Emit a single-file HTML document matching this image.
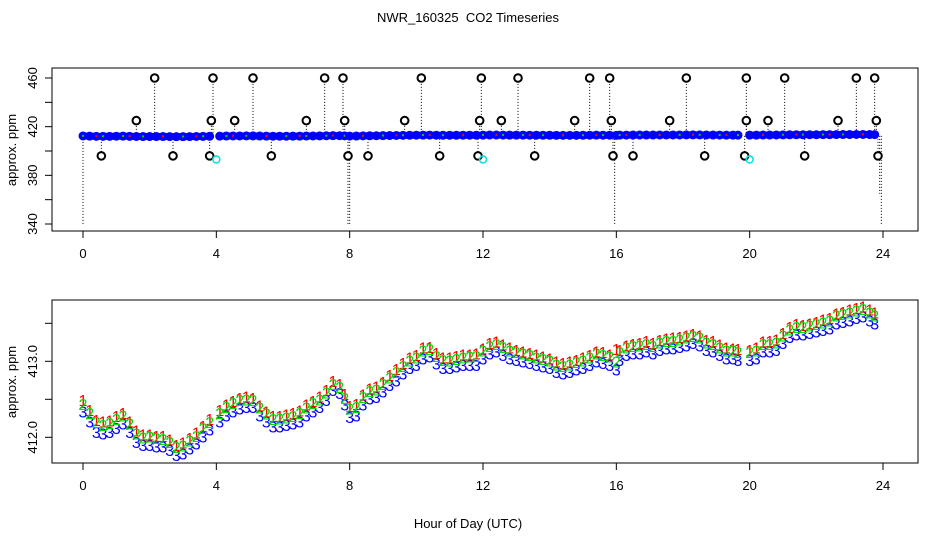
<!DOCTYPE html>
<html><head><meta charset="utf-8"><style>
html,body{margin:0;padding:0;background:#fff;}
svg{display:block;font-family:"Liberation Sans",sans-serif;}
</style></head><body>
<svg id="chart" width="936" height="540" viewBox="0 0 936 540" xmlns="http://www.w3.org/2000/svg">
<rect width="936" height="540" fill="#fff"/>
<text x="468" y="22" font-size="13" text-anchor="middle" xml:space="preserve">NWR_160325  CO2 Timeseries</text>
<text x="468" y="528" font-size="13" text-anchor="middle">Hour of Day (UTC)</text>
<rect x="52" y="68" width="866" height="163" fill="none" stroke="#000"/>
<rect x="52" y="300" width="866" height="163" fill="none" stroke="#000"/>
<text transform="translate(16,150) rotate(-90)" font-size="13" text-anchor="middle">approx. ppm</text>
<text transform="translate(16,382) rotate(-90)" font-size="13" text-anchor="middle">approx. ppm</text>
<g id="top-axes"></g>
<g id="top-marks"></g>
<g id="bot-axes"></g>
<g id="bot-marks"></g>
</svg>
<script>
const xTicks = [0,4,8,12,16,20,24];
const topYTicks = [340,360,380,400,420,440,460];
const topYLabels = ["340","","380","","420","","460"];
const botYTicks = [412.0,412.5,413.0,413.5];
const botYLabels = ["412.0","","413.0",""];
const hours = [0,0.2,0.4,0.6,0.8,1.0,1.2,1.4,1.6,1.8,2.0,2.2,2.4,2.6,2.8,3.0,3.2,3.4,3.6,3.8,4.1,4.3,4.5,4.7,4.9,5.1,5.3,5.5,5.7,5.9,6.1,6.3,6.5,6.7,6.9,7.1,7.3,7.5,7.7,7.85,8.0,8.2,8.4,8.6,8.8,9.0,9.2,9.4,9.6,9.8,10.0,10.2,10.4,10.6,10.8,11.0,11.2,11.4,11.6,11.8,12.0,12.2,12.4,12.6,12.8,13.0,13.2,13.4,13.6,13.8,14.0,14.2,14.4,14.6,14.8,15.0,15.2,15.4,15.6,15.8,16.0,16.1,16.3,16.5,16.7,16.9,17.1,17.3,17.5,17.7,17.9,18.1,18.3,18.5,18.7,18.9,19.1,19.3,19.5,19.65,20.0,20.2,20.4,20.6,20.8,21.0,21.2,21.4,21.6,21.8,22.0,22.2,22.4,22.6,22.8,23.0,23.2,23.4,23.6,23.75];
const series3 = [412.34,412.21,412.07,412.05,412.07,412.12,412.18,412.07,411.94,411.90,411.90,411.88,411.88,411.83,411.77,411.79,411.85,411.92,412.01,412.10,
412.21,412.29,412.34,412.38,412.40,412.40,412.29,412.21,412.14,412.14,412.16,412.18,412.21,412.29,412.34,412.40,412.49,412.62,412.58,
412.43,
412.27,412.29,412.43,412.51,412.53,412.60,412.69,412.75,412.84,412.91,412.95,413.04,413.06,412.97,412.91,412.91,412.93,412.95,412.95,412.95,
413.04,413.10,413.13,413.08,413.04,413.02,413.00,412.98,412.95,412.93,412.91,412.86,412.84,412.86,412.89,412.91,412.95,413.00,412.98,412.95,
412.89,413.02,
413.08,413.10,413.10,413.13,413.10,413.15,413.17,413.17,413.19,413.21,413.24,413.21,413.15,413.13,413.08,413.04,413.04,
413.02,
413.02,413.04,413.13,413.13,413.15,413.24,413.32,413.35,413.35,413.37,413.39,413.41,413.43,413.50,413.52,413.54,413.57,413.59,413.54,
413.50];
const series2 = [412.44,412.32,412.20,412.16,412.19,412.24,412.29,412.18,412.05,412.00,412.01,411.99,411.98,411.94,411.87,411.89,411.96,412.02,412.12,412.20,
412.32,412.40,412.45,412.49,412.50,412.49,412.39,412.31,412.24,412.25,412.26,412.28,412.32,412.39,412.45,412.50,412.59,412.70,412.66,
412.52,
412.38,412.40,412.53,412.61,412.63,412.70,412.79,412.86,412.94,413.01,413.05,413.14,413.16,413.07,413.02,413.01,413.03,413.05,413.06,413.07,
413.14,413.20,413.23,413.19,413.14,413.12,413.10,413.08,413.05,413.03,413.01,412.96,412.94,412.96,412.99,413.01,413.05,413.10,413.08,413.06,
413.00,413.12,
413.18,413.20,413.21,413.23,413.20,413.25,413.27,413.27,413.29,413.31,413.33,413.31,413.25,413.23,413.18,413.14,413.14,
413.12,
413.12,413.14,413.23,413.23,413.25,413.34,413.42,413.45,413.45,413.47,413.49,413.51,413.54,413.60,413.62,413.64,413.67,413.69,413.64,
413.60];
const series1 = [412.49,412.36,412.23,412.21,412.22,412.28,412.32,412.21,412.09,412.04,412.04,412.02,412.02,411.97,411.90,411.93,411.99,412.06,412.15,412.24,
412.36,412.43,412.48,412.52,412.54,412.52,412.42,412.34,412.28,412.28,412.30,412.32,412.35,412.43,412.48,412.54,412.62,412.74,412.70,
412.57,
412.41,412.44,412.56,412.64,412.67,412.73,412.82,412.90,412.98,413.05,413.08,413.18,413.19,413.11,413.05,413.05,413.07,413.09,413.09,413.10,
413.17,413.24,413.26,413.22,413.18,413.15,413.13,413.11,413.09,413.06,413.04,413.00,412.98,413.00,413.02,413.05,413.08,413.13,413.12,413.09,
413.16,413.15,
413.21,413.23,413.24,413.27,413.24,413.28,413.30,413.31,413.32,413.34,413.36,413.34,413.28,413.27,413.22,413.18,413.17,
413.16,
413.15,413.18,413.26,413.27,413.29,413.37,413.45,413.49,413.48,413.50,413.52,413.55,413.57,413.63,413.65,413.68,413.70,413.72,413.68,
413.64];
const outlierHours = [2.15,3.9,5.1,7.25,7.8,10.15,11.95,13.05,15.2,15.8,18.1,19.9,21.05,23.2,23.75,
1.6,3.85,4.55,6.7,7.85,9.65,11.9,12.55,14.75,15.85,17.6,19.9,20.55,22.65,23.8,
0.55,2.7,3.8,5.65,7.95,8.55,10.7,11.85,13.55,15.9,16.5,18.65,19.85,21.65,23.85];
const outlierValues = [460,460,460,460,460,460,460,460,460,460,460,460,460,460,460,
425,425,425,425,425,425,425,425,425,425,425,425,425,425,425,
396,396,396,396,396,396,396,396,396,396,396,396,396,396,396];
const calHours = [4.0,12.0,20.0];
const calValues = [393,393,393];
const dropHours = [0.0,7.95,8.0,15.95,23.9,23.95];
const dropValues = [340,340,340,340,365,340];
const baseLevel = 412.4;

const NS = "http://www.w3.org/2000/svg";
const xs = h => 83 + h * (800 / 24);
const yTop = v => 224 - (v - 340) * (146 / 120);
const yBot = v => 361.3 - (v - 413) * 76;
function mk(tag, attrs, parent){ const e = document.createElementNS(NS, tag); for (const k in attrs) e.setAttribute(k, attrs[k]); parent.appendChild(e); return e; }

function drawAxes(g, yTicks, yLabels, yf, frameBottom){
  xTicks.forEach(t => {
    const l = mk('line', {x1: xs(t), x2: xs(t), y1: frameBottom, y2: frameBottom + 7, stroke: '#000'}, g);
    
    
    const tx = mk('text', {x: xs(t), y: frameBottom + 27, 'font-size': 13, 'text-anchor': 'middle'}, g);
    tx.textContent = String(t);
    
    
  });
  mk('line', {x1: 52, x2: 52, y1: yf(yTicks[0]), y2: yf(yTicks[yTicks.length-1]), stroke: '#000'}, g);
  yTicks.forEach((t, i) => {
    const l = mk('line', {x1: 45, x2: 52, y1: yf(t), y2: yf(t), stroke: '#000'}, g);
    
    
    if (yLabels[i]) {
      const tx = mk('text', {transform: `translate(37,${yf(t)}) rotate(-90)`, 'font-size': 13, 'text-anchor': 'middle'}, g);
      tx.textContent = yLabels[i];
      
      
    }
  });
}
drawAxes(document.getElementById('top-axes'), topYTicks, topYLabels, yTop, 231);
drawAxes(document.getElementById('bot-axes'), botYTicks, botYLabels, yBot, 463);

// top panel
const tg = document.getElementById('top-marks');
dropHours.forEach((h, i) => {
  const l = mk('line', {x1: xs(h), x2: xs(h), y1: yTop(baseLevel), y2: yTop(dropValues[i]), stroke: '#000', 'stroke-dasharray': '1,2'}, tg);
  
  
});
outlierHours.forEach((h, i) => {
  const l = mk('line', {x1: xs(h), x2: xs(h), y1: yTop(baseLevel), y2: yTop(outlierValues[i]), stroke: '#000', 'stroke-dasharray': '1,2'}, tg);
  
  
});
hours.forEach((h, i) => {
  const c = mk('circle', {cx: xs(h), cy: yTop(series3[i]), r: 3.5, fill: '#0000ff', stroke: '#0000ff', 'stroke-width': 2}, tg);
  
  
  if (i + 1 < hours.length && hours[i+1] - h < 0.25) {
    const mid = mk('line', {x1: xs(h), x2: xs(hours[i+1]), y1: yTop(series3[i]), y2: yTop(series3[i+1]), stroke: '#0000ff', 'stroke-width': 7}, tg);
    
    
  }
  if (i % 3 === 0) {
    const d = mk('rect', {x: xs(h) - 1, y: yTop(series2[i]) - 1, width: 2, height: 2, fill: '#00cc00'}, tg);
    
    
  }
  if (i % 5 === 2) {
    const d = mk('rect', {x: xs(h) - 1, y: yTop(series1[i]) - 1, width: 2, height: 2, fill: '#ff0000'}, tg);
    
    
  }
});
outlierHours.forEach((h, i) => {
  const c = mk('circle', {cx: xs(h), cy: yTop(outlierValues[i]), r: 3.8, fill: '#fff', stroke: '#000', 'stroke-width': 2}, tg);
  
  
});
calHours.forEach((h, i) => {
  const c = mk('circle', {cx: xs(h), cy: yTop(calValues[i]), r: 3.5, fill: 'none', stroke: '#00e0e0', 'stroke-width': 1.5}, tg);
  
  
});

// bottom panel
const bg = document.getElementById('bot-marks');
function drawSeries(vals, ch, color, name){
  hours.forEach((h, i) => {
    const t = mk('text', {x: xs(h), y: yBot(vals[i]) + 6, 'font-size': 16, 'text-anchor': 'middle', fill: color}, bg);
    t.textContent = ch;
    
    
  });
}
drawSeries(series3, '3', '#0000ff', 'series-3-point');
drawSeries(series1, '1', '#ff0000', 'series-1-point');
drawSeries(series2, '2', '#00dd00', 'series-2-point');
</script>
</body></html>
